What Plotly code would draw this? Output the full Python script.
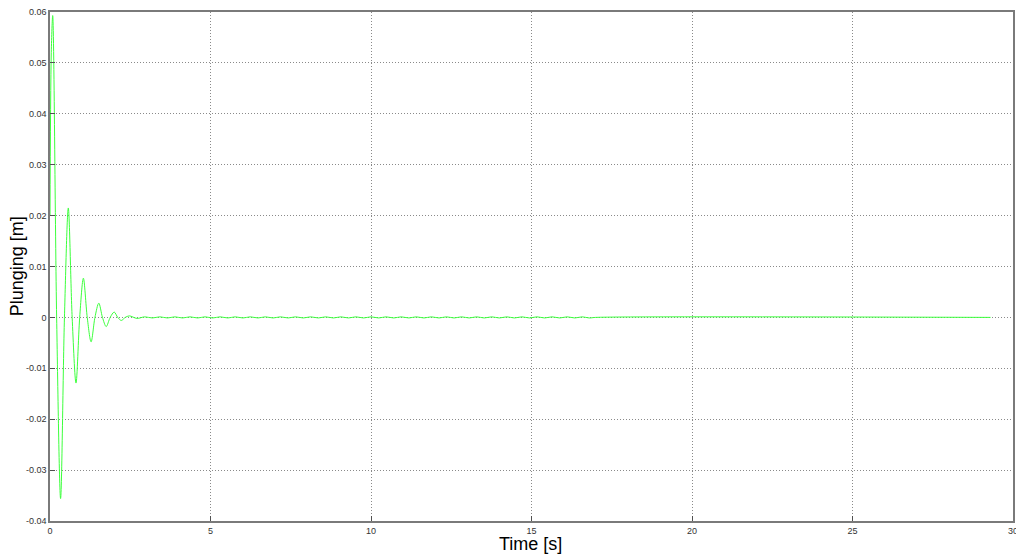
import plotly.graph_objects as go

# main damped response: extremes and zero crossings
t_main = [0.0, 0.04, 0.084, 0.207, 0.33, 0.45, 0.57, 0.69, 0.81, 0.925, 1.04, 1.16, 1.28, 1.40, 1.52,
          1.635, 1.75, 1.875, 2.0, 2.11, 2.22, 2.345, 2.47, 2.71]
v_main = [0.02, 0.052, 0.0593, 0.0, -0.0356, 0.0, 0.0215, 0.0, -0.0129, 0.0, 0.0077, 0.0, -0.0048, 0.0, 0.0028,
          0.0, -0.0018, 0.0, 0.00105, 0.0, -0.0006, 0.0, 0.0003, -0.0002]

# small residual ripple, then flat
t_ripple = [2.95, 3.19, 3.42, 3.66, 3.89, 4.13, 4.36, 4.60, 4.83, 5.07, 5.30, 5.54, 5.77, 6.01, 6.24,
            6.48, 6.71, 6.95, 7.18, 7.42, 7.65, 7.89, 8.12, 8.36, 8.59, 8.83, 9.06, 9.30, 9.53, 9.77,
            10.00, 10.24, 10.47, 10.71, 10.94, 11.18, 11.41, 11.65, 11.88, 12.12, 12.35, 12.59, 12.82,
            13.06, 13.29, 13.53, 13.76, 14.00, 14.23, 14.47, 14.70, 14.94, 15.17, 15.41, 15.64, 15.88,
            16.11, 16.35, 16.58, 16.80, 17.0, 29.3]
v_ripple = [0.00011, -0.00011] * 30 + [0.0, 0.0]

time = t_main + t_ripple
plunge = v_main + v_ripple

y_ticks = [0.06, 0.05, 0.04, 0.03, 0.02, 0.01, 0, -0.01, -0.02, -0.03, -0.04]
y_labels = ["0.06", "0.05", "0.04", "0.03", "0.02", "0.01", "0", "-0.01", "-0.02", "-0.03", "-0.04"]
x_ticks = [0, 5, 10, 15, 20, 25, 30]

fig = go.Figure()
fig.add_trace(go.Scatter(x=time, y=plunge, mode="lines",
                         line=dict(color="#3cff3c", width=1, shape="spline", smoothing=0.9),
                         showlegend=False))

axis_common = dict(showline=True, mirror=True, linecolor="#7a7a7a", linewidth=1.5,
                   showgrid=True, gridcolor="#8a8a8a", griddash="1px,2px", gridwidth=1,
                   ticks="inside", ticklen=5, tickcolor="#505050", zeroline=False, automargin=False,
                   ticklabeloverflow="allow",
                   tickfont=dict(family="Liberation Sans, Arial", size=9, color="#333333"))

fig.update_xaxes(range=[0, 30], tickvals=x_ticks, **axis_common)
fig.update_yaxes(range=[-0.04, 0.06], tickvals=y_ticks, ticktext=y_labels, **axis_common)

# axis titles as annotations so the plot area keeps its place
title_font = dict(family="Liberation Sans, Arial", size=18, color="#000000")
fig.add_annotation(text="Time [s]", xref="paper", yref="paper", x=0.4985, y=-0.046,
                   xanchor="center", yanchor="middle", showarrow=False, font=title_font)
fig.add_annotation(text="Plunging [m]", xref="paper", yref="paper", x=-0.0345, y=0.5, textangle=-90,
                   xanchor="center", yanchor="middle", showarrow=False, font=title_font)

# page body adds an 8px margin, so the figure is 8px smaller than the window
fig.update_layout(width=1016, height=551, plot_bgcolor="white", paper_bgcolor="white",
                  margin=dict(l=42, r=11, t=4, b=38))

fig.write_html("out.html")
